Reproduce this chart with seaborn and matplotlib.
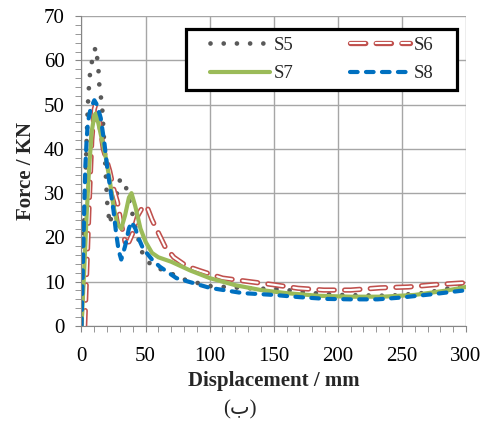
import matplotlib
matplotlib.use("Agg")
import matplotlib.pyplot as plt
import seaborn as sns
from matplotlib.patches import Rectangle
from matplotlib.ticker import MultipleLocator

# S5 - grey dots
s5_x = [0, 1, 2, 3, 4, 5, 6, 7, 9, 11, 13, 14, 16, 18, 20, 22, 26, 30, 33, 36, 40, 43, 48,
        55, 65, 80, 100, 130, 155, 177, 200, 240, 270, 300]
s5_y = [0, 10, 22, 32, 42, 50, 55, 58, 61, 63, 59, 54, 50, 40, 28, 23, 28, 33, 33, 30, 25, 21, 16,
        13.5, 12.5, 10.5, 9, 8.5, 8.3, 7.5, 7, 6.8, 7.5, 9.3]

# S6 - red hollow dashes
s6_x = [2.5, 4, 6, 8, 10, 11, 13, 15, 17, 19, 22, 25, 28, 31, 34, 37, 40, 44, 48, 51, 55, 60,
        65, 72, 82, 92, 110, 131, 150, 169, 189, 210, 233, 255, 275, 297, 300]
s6_y = [0, 12, 28, 42, 49, 50, 48, 44, 40, 38, 35, 31, 28, 23, 19, 19, 21, 25, 27, 27, 24, 21,
        18, 15.5, 13.5, 12.5, 10.8, 10, 9.3, 8.5, 8.1, 8.1, 8.6, 8.8, 9.3, 9.7, 9.8]

# S7 - green solid
s7_x = [0, 2, 4, 6, 8, 10, 11, 13, 16, 19, 22, 25, 28, 31, 34, 37, 39, 42, 46, 50, 55, 60, 70,
        85, 100, 120, 140, 160, 185, 210, 235, 260, 285, 300]
s7_y = [0, 12, 25, 36, 44, 47.5, 48, 46, 42, 38, 33, 27, 23, 22, 25, 29, 30, 27, 22, 19, 16.5,
        15.5, 14.5, 12.5, 10.8, 9.2, 8.1, 7.4, 6.8, 6.6, 6.6, 7, 8, 8.8]

# S8 - blue dashes
s8_x = [0, 1, 2, 3, 4, 5, 7, 10, 12, 15, 18, 20, 22, 25, 27, 29, 31, 34, 37, 39, 42, 45, 48,
        55, 61, 74, 100, 126, 150, 170, 191, 210, 231, 249, 275, 298, 300]
s8_y = [0, 12, 25, 36, 42, 46, 49, 51, 50, 47, 41, 36, 32, 26, 21, 17, 15, 18, 22, 23.5, 22,
        19.5, 17.5, 15, 13.4, 10.8, 8.6, 7.4, 7, 6.5, 6.1, 6, 6, 6.4, 7.2, 8, 8.1]

sns.set_style("white")
plt.rcParams["font.family"] = ["Liberation Serif", "DejaVu Sans"]
plt.rcParams["lines.scale_dashes"] = False

fig = plt.figure(figsize=(4.88, 4.26), dpi=100)
ax = fig.add_axes([0.167, 0.235, 0.788, 0.727])

grey = "#595959"
red = "#C0504D"
green = "#9BBB59"
blue = "#0070C0"

dot_style = dict(color=grey, lw=3.4, linestyle=(0, (0.01, 9.5)), dash_capstyle="round")
red_out = dict(color=red, lw=3.8, linestyle=(0, (11, 7.5)), dash_capstyle="round")
red_in = dict(color="white", lw=1.5, linestyle=(0, (11, 7.5)), dash_capstyle="round")
green_style = dict(color=green, lw=3)
blue_style = dict(color=blue, lw=3, linestyle=(0, (5.5, 6)), dash_capstyle="round")

sns.lineplot(x=s5_x, y=s5_y, ax=ax, sort=False, **dot_style)
sns.lineplot(x=s6_x, y=s6_y, ax=ax, sort=False, **red_out)
sns.lineplot(x=s6_x, y=s6_y, ax=ax, sort=False, **red_in)
sns.lineplot(x=s7_x, y=s7_y, ax=ax, sort=False, **green_style)
sns.lineplot(x=s8_x, y=s8_y, ax=ax, sort=False, **blue_style)

ax.set_xlim(0, 300)
ax.set_ylim(0, 70)
ax.xaxis.set_major_locator(MultipleLocator(50))
ax.xaxis.set_minor_locator(MultipleLocator(10))
ax.yaxis.set_major_locator(MultipleLocator(10))
ax.yaxis.set_minor_locator(MultipleLocator(2))
ax.grid(True, which="major", color="#A6A6A6", lw=1)
ax.set_axisbelow(True)
for side in ["top", "right"]:
    ax.spines[side].set_visible(False)
for side in ["left", "bottom"]:
    ax.spines[side].set_color("#868686")
ax.tick_params(which="both", direction="out", length=4, color="#868686",
               labelsize=15, labelcolor="black", left=True, bottom=True)
ax.tick_params(axis="x", which="major", pad=11)
ax.tick_params(axis="y", which="major", pad=8)

ax.set_xlabel("Displacement / mm", fontsize=15, fontweight="bold", labelpad=4)
ax.set_ylabel("Force / KN", fontsize=15, fontweight="bold", labelpad=6)

# legend box drawn separately so the padding matches the original
box = Rectangle((0.2714, 0.761), 0.7052, 0.197, transform=ax.transAxes,
                facecolor="white", edgecolor="black", lw=2.3, zorder=4.5, clip_on=False)
ax.add_patch(box)

h5 = plt.Line2D([], [], **dot_style)
h6a = plt.Line2D([], [], **red_out)
h6b = plt.Line2D([], [], **red_in)
h7 = plt.Line2D([], [], **green_style)
h8 = plt.Line2D([], [], **blue_style)
leg = ax.legend([h5, h7, (h6a, h6b), h8], ["S5", "S7", "S6", "S8"], ncol=2,
                loc="center", bbox_to_anchor=(0.624, 0.86), borderaxespad=0,
                fontsize=13.5, handlelength=3.2, handletextpad=0.2, columnspacing=3.0,
                labelspacing=0.6, frameon=False, borderpad=0)
leg.set_zorder(5)

fig.text(240 / 488, 1 - 410 / 426, "(ب)", ha="center", va="center", fontsize=15)

fig.savefig("out.png", dpi=100)
